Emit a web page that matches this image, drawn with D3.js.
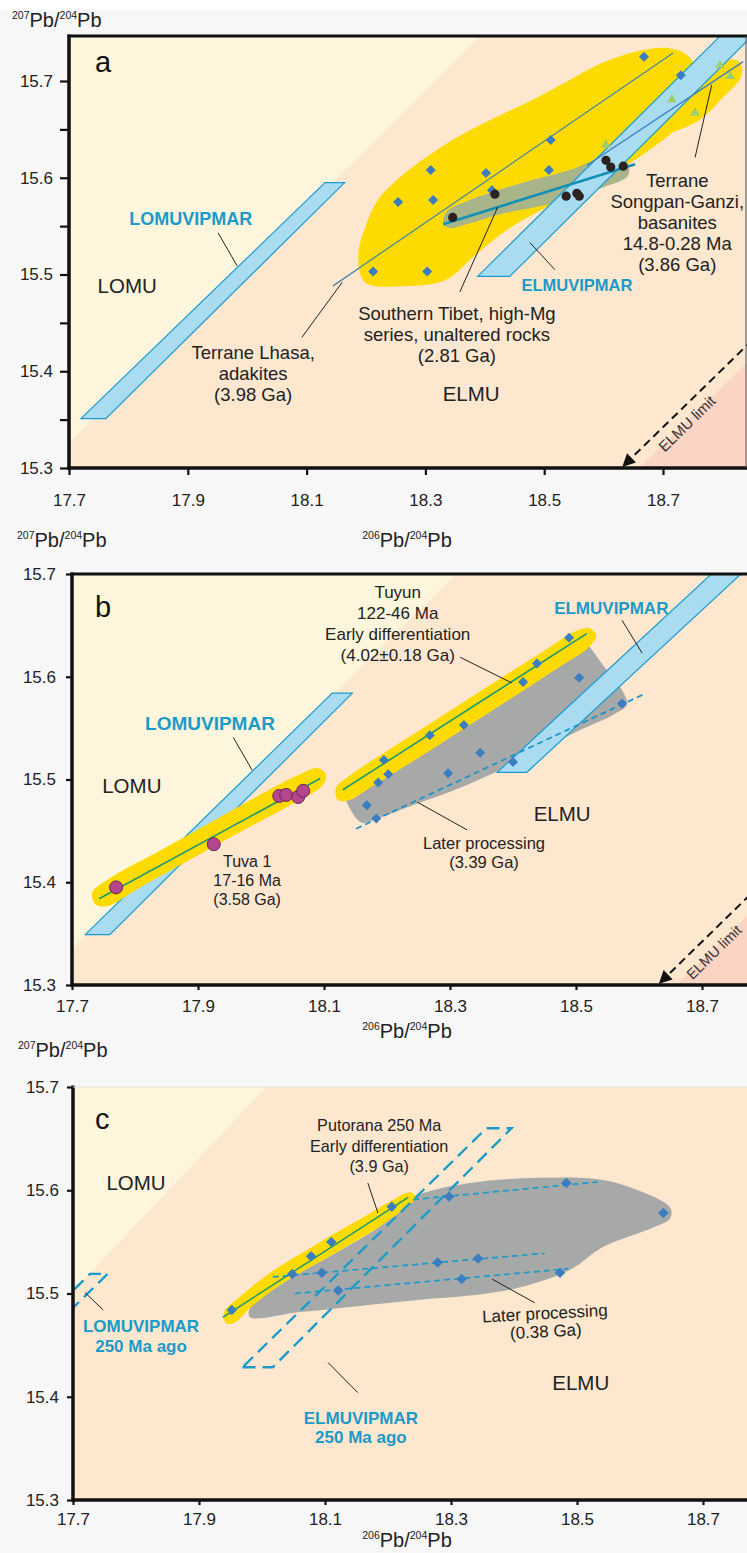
<!DOCTYPE html>
<html>
<head>
<meta charset="utf-8">
<script src="https://cdn.jsdelivr.net/npm/d3@7"></script>
<style>
  body { margin: 0; background: #f7f7f7; }
  svg { display: block; font-family: "Liberation Sans", Arial, sans-serif; }
</style>
</head>
<body>
<svg id="chart" width="747" height="1553"></svg>
<script>
// ---------- shared axis values ----------
const xTicks = [17.7, 17.9, 18.1, 18.3, 18.5, 18.7];
const yTicks = [15.3, 15.4, 15.5, 15.6, 15.7];
const yMinorTicksA = [15.35, 15.45, 15.55, 15.65];

// ELMU limit (panels a, b)
const elmuLimitArrow = [[18.85, 15.432], [18.633, 15.302]];
const elmuLimitEdge = [[18.66, 15.30], [18.90, 15.444]];

// ---------- panel a ----------
const lomuEdgeA = [[17.7, 15.326], [18.392, 15.746]];
const lomuvipmarA = [[17.720, 15.351], [17.762, 15.351], [18.164, 15.595], [18.131, 15.595]];
const elmuvipmarA = [[18.388, 15.498], [18.442, 15.498], [18.938, 15.80], [18.884, 15.80]];

const lhasaField = [[18.187, 15.520], [18.200, 15.551], [18.220, 15.577], [18.262, 15.603], [18.320, 15.629],
  [18.375, 15.649], [18.488, 15.683], [18.543, 15.701], [18.599, 15.719], [18.666, 15.732], [18.708, 15.734],
  [18.742, 15.726], [18.759, 15.706], [18.754, 15.680], [18.729, 15.655], [18.678, 15.629], [18.611, 15.603],
  [18.527, 15.577], [18.442, 15.548], [18.384, 15.520], [18.333, 15.494], [18.266, 15.488], [18.198, 15.492]];
const songpanField = [[18.589, 15.632], [18.611, 15.646], [18.656, 15.667], [18.712, 15.691], [18.767, 15.711],
  [18.801, 15.722], [18.830, 15.719], [18.831, 15.704], [18.801, 15.683], [18.762, 15.660], [18.712, 15.646],
  [18.644, 15.632], [18.599, 15.621]];
const tibetField = [[18.330, 15.552], [18.336, 15.565], [18.375, 15.577], [18.459, 15.594], [18.543, 15.608],
  [18.611, 15.622], [18.639, 15.616], [18.641, 15.602], [18.599, 15.590], [18.543, 15.578], [18.488, 15.570],
  [18.431, 15.563], [18.375, 15.553], [18.341, 15.548]];

const lhasaDiamonds = [[18.254, 15.575], [18.313, 15.577], [18.309, 15.608], [18.402, 15.605], [18.511, 15.639],
  [18.508, 15.608], [18.668, 15.725], [18.730, 15.706], [18.212, 15.503], [18.303, 15.503], [18.412, 15.587]];
const tibetDots = [[18.346, 15.559], [18.417, 15.583], [18.537, 15.581], [18.555, 15.584], [18.559, 15.581],
  [18.604, 15.618], [18.612, 15.611], [18.633, 15.612]];
const songpanTriangles = [[18.604, 15.634], [18.715, 15.681], [18.754, 15.667], [18.796, 15.716], [18.813, 15.705]];

const lhasaLine = [[18.144, 15.488], [18.717, 15.729]];
const songpanLine = [[18.572, 15.613], [18.835, 15.720]];
const tibetLine = [[18.330, 15.552], [18.653, 15.614]];

// ---------- panel b ----------
const lomuEdgeB = [[17.7, 15.335], [18.31, 15.70]];
const lomuvipmarB = [[17.721, 15.349], [17.760, 15.349], [18.145, 15.584], [18.113, 15.584]];
const elmuvipmarB = [[18.375, 15.507], [18.422, 15.507], [18.938, 15.80], [18.891, 15.80]];

const tuvaField = [[17.738, 15.378], [17.732, 15.390], [17.760, 15.404], [17.840, 15.431], [17.919, 15.458],
  [17.998, 15.485], [18.062, 15.505], [18.090, 15.511], [18.103, 15.505], [18.097, 15.494], [18.046, 15.475],
  [17.967, 15.449], [17.887, 15.422], [17.808, 15.395], [17.757, 15.377]];
const tuyunField = [[18.122, 15.480], [18.119, 15.492], [18.141, 15.504], [18.221, 15.536], [18.300, 15.567],
  [18.379, 15.598], [18.459, 15.629], [18.498, 15.644], [18.522, 15.647], [18.532, 15.640], [18.519, 15.628],
  [18.475, 15.610], [18.395, 15.578], [18.316, 15.547], [18.237, 15.516], [18.173, 15.492], [18.141, 15.480]];
const tuyunLateField = [[18.133, 15.488], [18.141, 15.472], [18.160, 15.458], [18.189, 15.463], [18.237, 15.474],
  [18.308, 15.490], [18.379, 15.509], [18.443, 15.529], [18.506, 15.548], [18.562, 15.564], [18.581, 15.573],
  [18.573, 15.587], [18.543, 15.611], [18.519, 15.631], [18.498, 15.641], [18.443, 15.621], [18.348, 15.584],
  [18.252, 15.546], [18.173, 15.514]];

const tuvaCircles = [[17.770, 15.395], [17.925, 15.437], [18.029, 15.484], [18.040, 15.485], [18.059, 15.483], [18.067, 15.489]];
const tuyunDiamonds = [[18.489, 15.638], [18.438, 15.613], [18.416, 15.595], [18.505, 15.599], [18.322, 15.553],
  [18.268, 15.543], [18.348, 15.526], [18.573, 15.574], [18.400, 15.517], [18.195, 15.519], [18.202, 15.505],
  [18.297, 15.506], [18.186, 15.497], [18.168, 15.475], [18.183, 15.462]];

const tuvaLine = [[17.743, 15.384], [18.094, 15.501]];
const tuyunLine = [[18.130, 15.490], [18.517, 15.642]];
const tuyunLateLine = [[18.151, 15.452], [18.611, 15.584]];

// ---------- panel c ----------
const lomuEdgeC = [[17.706, 15.506], [18.002, 15.697]];
const lomuvipmar250 = [[17.528, 15.40], [17.556, 15.40], [17.755, 15.519], [17.727, 15.519]];
const elmuvipmar250 = [[17.969, 15.4285], [18.017, 15.4285], [18.396, 15.66], [18.356, 15.66]];

const putoranaField = [[17.943, 15.471], [17.940, 15.482], [17.965, 15.497], [18.008, 15.518], [18.087, 15.548],
  [18.167, 15.576], [18.206, 15.590], [18.235, 15.598], [18.244, 15.593], [18.219, 15.579], [18.187, 15.565],
  [18.113, 15.538], [18.033, 15.510], [17.981, 15.486], [17.957, 15.472]];
const putoranaLateField = [[17.981, 15.477], [18.060, 15.482], [18.156, 15.488], [18.251, 15.494], [18.330, 15.498],
  [18.410, 15.506], [18.489, 15.523], [18.541, 15.545], [18.621, 15.564], [18.648, 15.573], [18.648, 15.583],
  [18.605, 15.598], [18.541, 15.610], [18.437, 15.612], [18.330, 15.607], [18.240, 15.593], [18.187, 15.565],
  [18.033, 15.510], [17.981, 15.486]];

const putoranaDiamonds = [[17.952, 15.484], [18.048, 15.519], [18.078, 15.536], [18.110, 15.550], [18.095, 15.520],
  [18.121, 15.503], [18.206, 15.584], [18.297, 15.594], [18.483, 15.607], [18.637, 15.578], [18.279, 15.530],
  [18.343, 15.534], [18.317, 15.514], [18.473, 15.520]];

const putoranaLine = [[17.938, 15.477], [18.232, 15.593]];
const putoranaLateLines = [
  [[18.240, 15.591], [18.533, 15.608]],
  [[18.017, 15.516], [18.449, 15.539]],
  [[18.052, 15.500], [18.486, 15.524]]
];

// ---------- labels (text, anchor point in data units) ----------
const labelsA = [
  { lines: ['LOMUVIPMAR'], at: [17.905, 15.557], blue: true, size: 18 },
  { lines: ['LOMU'], at: [17.798, 15.489], size: 20.5 },
  { lines: ['Terrane Lhasa,', 'adakites', '(3.98 Ga)'], at: [18.010, 15.420], size: 18.5 },
  { lines: ['Southern Tibet, high-Mg', 'series, unaltered rocks', '(2.81 Ga)'], at: [18.353, 15.460], size: 18.5 },
  { lines: ['ELMUVIPMAR'], at: [18.555, 15.489], blue: true, size: 16.5 },
  { lines: ['Terrane', 'Songpan-Ganzi,', 'basanites', '14.8-0.28 Ma', '(3.86 Ga)'], at: [18.724, 15.598], size: 18.5 },
  { lines: ['ELMU'], at: [18.377, 15.378], size: 20.5 }
];
const leadersA = [
  [[17.951, 15.543], [17.983, 15.509]],
  [[18.092, 15.435], [18.160, 15.492]],
  [[18.358, 15.482], [18.422, 15.570]],
  [[18.476, 15.533], [18.518, 15.505]],
  [[18.754, 15.621], [18.782, 15.696]]
];
const labelsB = [
  { lines: ['LOMUVIPMAR'], at: [17.919, 15.555], blue: true, size: 19 },
  { lines: ['LOMU'], at: [17.795, 15.495], size: 20.5 },
  { lines: ['Tuyun', '122-46 Ma', 'Early differentiation', '(4.02\u00b10.18 Ga)'], at: [18.217, 15.682], gap: 20.7 },
  { lines: ['ELMUVIPMAR'], at: [18.556, 15.667], blue: true, size: 17 },
  { lines: ['ELMU'], at: [18.478, 15.467], size: 20.5 },
  { lines: ['Later processing', '(3.39 Ga)'], at: [18.354, 15.438], size: 16.5, gap: 19 },
  { lines: ['Tuva 1', '17-16 Ma', '(3.58 Ga)'], at: [17.978, 15.421], size: 16, gap: 19 }
];
const leadersB = [
  [[17.956, 15.541], [17.986, 15.509]],
  [[18.316, 15.619], [18.398, 15.594]],
  [[18.573, 15.655], [18.605, 15.623]],
  [[18.327, 15.451], [18.248, 15.478]]
];
const labelsC = [
  { lines: ['LOMU'], at: [17.800, 15.608], size: 20.5 },
  { lines: ['Putorana 250 Ma', 'Early differentiation', '(3.9 Ga)'], at: [18.186, 15.663], size: 16.2, gap: 20.5 },
  { lines: ['LOMUVIPMAR', '250 Ma ago'], at: [17.808, 15.469], blue: true, size: 17, gap: 20 },
  { lines: ['ELMUVIPMAR', '250 Ma ago'], at: [18.157, 15.379], blue: true, size: 17, gap: 19 },
  { lines: ['ELMU'], at: [18.506, 15.414], size: 20.5 },
  { lines: ['Later processing', '(0.38 Ga)'], at: [18.449, 15.481], size: 17, gap: 18, rotate: -3 }
];
const leadersC = [
  [[18.168, 15.607], [18.184, 15.578]],
  [[17.719, 15.501], [17.748, 15.484]],
  [[18.105, 15.433], [18.152, 15.404]],
  [[18.365, 15.514], [18.433, 15.491]]
];

// ---------- drawing ----------
const svg = d3.select('#chart');
const defs = svg.append('defs');
svg.append('rect').attr('width', 747).attr('height', 10).attr('fill', '#ffffff');

defs.append('marker')
    .attr('id', 'arrow')
    .attr('viewBox', '0 0 10 10')
    .attr('refX', 9).attr('refY', 5)
    .attr('markerUnits', 'userSpaceOnUse')
    .attr('markerWidth', 15).attr('markerHeight', 13)
    .attr('orient', 'auto')
  .append('path')
    .attr('d', 'M0,0L10,5L0,10z')
    .attr('fill', '#111');

const BLUE_TEXT = '#1a9bc9';
const lineY = (s, xv) => s[0][1] + (s[1][1] - s[0][1]) / (s[1][0] - s[0][0]) * (xv - s[0][0]);
const lineX = (s, yv) => s[0][0] + (s[1][0] - s[0][0]) / (s[1][1] - s[0][1]) * (yv - s[0][1]);

const drawA = (plot, x, y, h) => {
  plot.append('path').attr('d', h.poly(lomuvipmarA)).attr('fill', '#a9dcf1').attr('stroke', '#1a9bd3').attr('stroke-width', 1.2);
  plot.append('path').attr('d', h.blob(lhasaField)).attr('fill', '#fddb00');
  plot.append('path').attr('d', h.blob(songpanField)).attr('fill', '#fddb00');
  plot.append('path').attr('d', h.blob(tibetField)).attr('fill', '#a8b58b');
  plot.append('path').attr('d', h.poly(elmuvipmarA)).attr('fill', '#a9dcf1').attr('stroke', '#1a9bd3').attr('stroke-width', 1.2);

  plot.append('path').attr('d', h.line(lhasaLine)).attr('stroke', '#4d87a6').attr('stroke-width', 1.3).attr('fill', 'none');
  plot.append('path').attr('d', h.line(songpanLine)).attr('stroke', '#3c7ec2').attr('stroke-width', 1.3).attr('fill', 'none');
  plot.append('path').attr('d', h.line(tibetLine)).attr('stroke', '#1290b6').attr('stroke-width', 2.6).attr('fill', 'none');

  h.diamonds(lhasaDiamonds, 50);
  plot.selectAll(null).data(songpanTriangles).enter().append('path')
      .attr('transform', d => `translate(${x(d[0])},${y(d[1])})`)
      .attr('d', d3.symbol(d3.symbolTriangle, 42))
      .attr('fill', '#9ccf6b');
  plot.selectAll(null).data(tibetDots).enter().append('circle')
      .attr('cx', d => x(d[0])).attr('cy', d => y(d[1]))
      .attr('r', 4.6)
      .attr('fill', '#2b2222');
};

const drawB = (plot, x, y, h) => {
  plot.append('path').attr('d', h.poly(lomuvipmarB)).attr('fill', '#a9dcf1').attr('stroke', '#1a9bd3').attr('stroke-width', 1.2);
  plot.append('path').attr('d', h.blob(tuyunLateField)).attr('fill', '#a7a9a9');
  plot.append('path').attr('d', h.blob(tuyunField)).attr('fill', '#fddb00');
  plot.append('path').attr('d', h.blob(tuvaField)).attr('fill', '#fddb00');
  plot.append('path').attr('d', h.poly(elmuvipmarB)).attr('fill', '#a9dcf1').attr('stroke', '#1a9bd3').attr('stroke-width', 1.2);

  [tuvaLine, tuyunLine].forEach(l => {
    plot.append('path').attr('d', h.line(l)).attr('stroke', '#1f9a72').attr('stroke-width', 1.6).attr('fill', 'none');
  });
  plot.append('path').attr('d', h.line(tuyunLateLine))
      .attr('stroke', '#1a92c6').attr('stroke-width', 1.7).attr('stroke-dasharray', '6,4').attr('fill', 'none');

  h.diamonds(tuyunDiamonds, 50);
  plot.selectAll(null).data(tuvaCircles).enter().append('circle')
      .attr('cx', d => x(d[0])).attr('cy', d => y(d[1]))
      .attr('r', 6.5)
      .attr('fill', '#b4468e')
      .attr('stroke', '#6b2455')
      .attr('stroke-width', 1);
};

const drawC = (plot, x, y, h) => {
  plot.append('path').attr('d', h.blob(putoranaLateField)).attr('fill', '#a7a9a9');
  plot.append('path').attr('d', h.blob(putoranaField)).attr('fill', '#fddb00');

  [lomuvipmar250, elmuvipmar250].forEach(b => {
    plot.append('path').attr('d', h.poly(b))
        .attr('fill', 'none').attr('stroke', '#1a9bc9').attr('stroke-width', 2.4).attr('stroke-dasharray', '13,7');
  });

  plot.append('path').attr('d', h.line(putoranaLine)).attr('stroke', '#1f9a72').attr('stroke-width', 1.5).attr('fill', 'none');
  putoranaLateLines.forEach(l => {
    plot.append('path').attr('d', h.line(l))
        .attr('stroke', '#1a9bc9').attr('stroke-width', 1.7).attr('stroke-dasharray', '6,4').attr('fill', 'none');
  });

  h.diamonds(putoranaDiamonds, 55);
};

const panels = [
  { id: 'a', xRange: [69, 663], yRange: [468, 81], top: 36,
    xTickSize: 7, xTickPad: 19, yTickSize: 9, yTickPad: 7, yMinor: yMinorTicksA,
    lomuEdge: lomuEdgeA, elmuLimit: [18.74, 15.346], limitSize: 15, topFrame: true, rightFrame: true,
    yTitle: [12, 27], xTitle: [407, 547], letter: [95, 72],
    labels: labelsA, leaders: leadersA, draw: drawA },
  { id: 'b', xRange: [72, 702], yRange: [985, 574], top: 574,
    xTickSize: 5, xTickPad: 10, yTickSize: 6, yTickPad: 10,
    lomuEdge: lomuEdgeB, elmuLimit: [18.719, 15.332], limitSize: 14.5, topFrame: true,
    yTitle: [17, 547], xTitle: [407, 1038], letter: [95, 617],
    labels: labelsB, leaders: leadersB, draw: drawB },
  { id: 'c', xRange: [73, 703], yRange: [1500, 1087], top: 1087,
    xTickSize: 5, xTickPad: 8, yTickSize: 6, yTickPad: 8,
    lomuEdge: lomuEdgeC, elmuLimit: null, topFrame: false,
    yTitle: [18, 1057], xTitle: [407, 1547], letter: [95, 1129],
    labels: labelsC, leaders: leadersC, draw: drawC }
];

const pbTitle = (g, px, py, anchor) => {
  const t = g.append('text')
      .attr('x', px).attr('y', py)
      .attr('text-anchor', anchor)
      .attr('font-size', 20)
      .attr('fill', '#222');
  t.append('tspan').attr('font-size', 10.5).attr('dy', -8).text(anchor === 'start' ? '207' : '206');
  t.append('tspan').attr('dy', 8).text('Pb/');
  t.append('tspan').attr('font-size', 10.5).attr('dy', -8).text('204');
  t.append('tspan').attr('dy', 8).text('Pb');
};

const drawPanel = p => {
  const x = d3.scaleLinear().domain([17.7, 18.7]).range(p.xRange);
  const y = d3.scaleLinear().domain([15.3, 15.7]).range(p.yRange);
  const left = p.xRange[0], bottom = p.yRange[0], right = 747, top = p.top;
  const xLo = x.invert(left) - 0.3, xHi = x.invert(right) + 0.3;
  const yLo = y.invert(bottom) - 0.3;

  const line = d3.line().x(d => x(d[0])).y(d => y(d[1]));
  const poly = pts => line(pts) + 'Z';
  const blob = d3.line().x(d => x(d[0])).y(d => y(d[1])).curve(d3.curveCatmullRomClosed.alpha(0.5));

  defs.append('clipPath').attr('id', 'clip-' + p.id)
    .append('rect')
      .attr('x', left).attr('y', top)
      .attr('width', right - left).attr('height', bottom - top);

  const g = svg.append('g');
  const plot = g.append('g').attr('clip-path', `url(#clip-${p.id})`);

  // LOMU field fills the frame, ELMU field lies below the boundary
  plot.append('rect')
      .attr('x', left).attr('y', top)
      .attr('width', right - left).attr('height', bottom - top)
      .attr('fill', '#fdf6dc');
  const e = p.lomuEdge;
  plot.append('path')
      .attr('d', poly([[xLo, lineY(e, xLo)], [xHi, lineY(e, xHi)], [xHi, yLo], [xLo, yLo]]))
      .attr('fill', '#fde7cf');
  if (p.elmuLimit) {
    const k = elmuLimitEdge;
    plot.append('path')
        .attr('d', poly([[lineX(k, yLo), yLo], [xHi, lineY(k, xHi)], [xHi, yLo]]))
        .attr('fill', '#fbd4c4');
  }

  const diamonds = (data, size) => {
    plot.selectAll(null).data(data).enter().append('path')
        .attr('transform', d => `translate(${x(d[0])},${y(d[1])}) rotate(45)`)
        .attr('d', d3.symbol(d3.symbolSquare, size))
        .attr('fill', '#3b7dc1');
  };

  p.draw(plot, x, y, { line, poly, blob, diamonds });

  if (p.elmuLimit) {
    plot.append('path')
        .attr('d', line(elmuLimitArrow))
        .attr('stroke', '#111').attr('stroke-width', 2)
        .attr('stroke-dasharray', '8,5')
        .attr('fill', 'none')
        .attr('marker-end', 'url(#arrow)');
    const a0 = elmuLimitArrow[0], a1 = elmuLimitArrow[1];
    const ang = Math.atan2(y(a0[1]) - y(a1[1]), x(a0[0]) - x(a1[0])) * 180 / Math.PI;
    const tx = x(p.elmuLimit[0]), ty = y(p.elmuLimit[1]);
    g.append('text')
        .attr('x', tx).attr('y', ty)
        .attr('transform', `rotate(${ang},${tx},${ty})`)
        .attr('text-anchor', 'middle')
        .attr('dominant-baseline', 'central')
        .attr('font-size', p.limitSize)
        .attr('fill', '#333')
        .text('ELMU limit');
  }

  // leaders and annotations
  p.leaders.forEach(l => {
    g.append('path').attr('d', line(l)).attr('stroke', '#222').attr('stroke-width', 1).attr('fill', 'none');
  });
  p.labels.forEach(lb => {
    const size = lb.size || 17;
    const gap = lb.gap || 21;
    const tx = x(lb.at[0]), ty = y(lb.at[1]);
    const t = g.append('text')
        .attr('x', tx).attr('y', ty)
        .attr('text-anchor', 'middle')
        .attr('dominant-baseline', 'central')
        .attr('font-size', size)
        .attr('font-weight', lb.blue ? 'bold' : 'normal')
        .attr('fill', lb.blue ? BLUE_TEXT : '#222');
    if (lb.rotate) t.attr('transform', `rotate(${lb.rotate},${tx},${ty})`);
    lb.lines.forEach((s, i) => {
      t.append('tspan').attr('x', tx).attr('dy', i === 0 ? 0 : gap).text(s);
    });
  });

  // axes
  const xAxis = d3.axisBottom(x)
      .tickValues(xTicks)
      .tickFormat(d3.format('.1f'))
      .tickSize(p.xTickSize)
      .tickPadding(p.xTickPad)
      .tickSizeOuter(0);
  const yAxis = d3.axisLeft(y)
      .tickValues(yTicks)
      .tickFormat(d3.format('.1f'))
      .tickSize(p.yTickSize)
      .tickPadding(p.yTickPad)
      .tickSizeOuter(0);

  const styleAxis = s => {
    s.select('.domain').remove();
    s.attr('font-family', null).attr('font-size', null);
    s.selectAll('line').attr('stroke', '#111').attr('stroke-width', 2.2);
    s.selectAll('text').attr('font-size', 17).attr('fill', '#222');
  };
  g.append('g').attr('transform', `translate(0,${bottom})`).call(xAxis).call(styleAxis);
  g.append('g').attr('transform', `translate(${left},0)`).call(yAxis).call(styleAxis);
  if (p.yMinor) {
    g.append('g').attr('transform', `translate(${left},0)`)
        .call(d3.axisLeft(y).tickValues(p.yMinor).tickFormat('').tickSize(p.yTickSize).tickSizeOuter(0))
        .call(styleAxis);
  }

  g.append('line').attr('x1', left).attr('x2', left).attr('y1', top - 1.5).attr('y2', bottom + 1.5)
      .attr('stroke', '#111').attr('stroke-width', 3.5);
  g.append('line').attr('x1', left - 1.5).attr('x2', right).attr('y1', bottom).attr('y2', bottom)
      .attr('stroke', '#111').attr('stroke-width', 3.5);
  if (p.topFrame) {
    g.append('line').attr('x1', left - 1.5).attr('x2', right).attr('y1', top).attr('y2', top)
        .attr('stroke', '#111').attr('stroke-width', 3);
  } else {
    g.append('line').attr('x1', left).attr('x2', right).attr('y1', top).attr('y2', top)
        .attr('stroke', '#e4e0d8').attr('stroke-width', 1);
  }
  if (p.rightFrame) {
    g.append('line').attr('x1', right - 1).attr('x2', right - 1).attr('y1', top).attr('y2', bottom)
        .attr('stroke', '#555').attr('stroke-width', 1);
  }

  // titles and panel letter
  pbTitle(g, p.yTitle[0], p.yTitle[1], 'start');
  pbTitle(g, p.xTitle[0], p.xTitle[1], 'middle');
  g.append('text')
      .attr('x', p.letter[0]).attr('y', p.letter[1])
      .attr('font-size', 29)
      .attr('fill', '#111')
      .text(p.id);
};

panels.forEach(drawPanel);
</script>
</body>
</html>
